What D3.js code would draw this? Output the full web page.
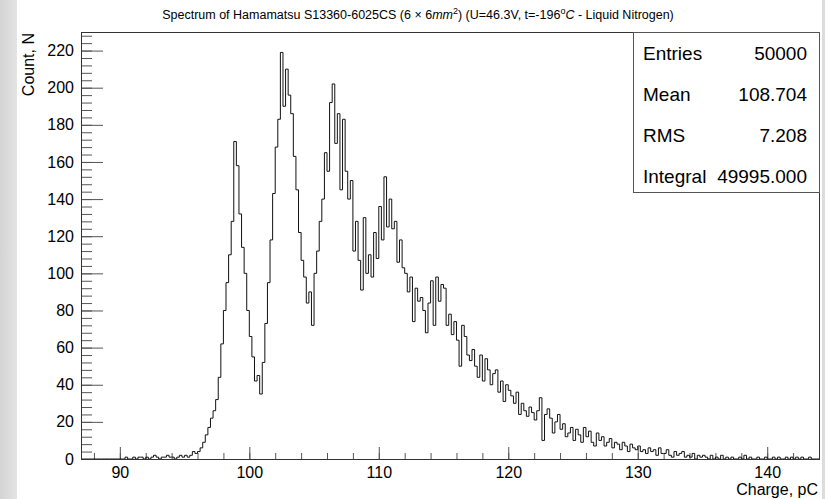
<!DOCTYPE html>
<html lang="en">
<head>
<meta charset="UTF-8">
<title>Spectrum of Hamamatsu S13360-6025CS</title>
<script src="https://cdnjs.cloudflare.com/ajax/libs/d3/7.8.5/d3.min.js"></script>
<style>
  body { margin: 0; background: #fff; }
  svg { display: block; font-family: "Liberation Sans", Arial, sans-serif; }
  .tick line { stroke: #555; }
  .tick text { fill: #000; font-size: 16px; }
</style>
</head>
<body>
<svg width="825" height="499"></svg>
<script>
// histogram: 285 bins of 0.2 pC starting at 87 pC
const binStart = 87;
const binWidth = 0.2;
const counts = [
  0,0,0,0,0,      0,0,0,0,0,      0,0,0,0,0,        // 87-89
  0,0,1,0,0,      1,0,1,1,0,      1,0,1,2,1,        // 90-92
  0,1,1,2,1,      1,0,1,2,1,      2,1,2,4,3,        // 93-95
  4,6,9,13,17,    22,26,32,44,62, 80,95,110,128,171, // 96-98
  158,132,114,100,80, 66,55,42,45,35, 52,73,95,118,143, // 99-101
  168,183,219,190,210, 196,186,163,145,122, 107,98,84,90,72, // 102-104
  100,112,128,140,165, 155,192,202,170,186, 145,183,155,140,150, // 105-107
  112,128,107,91,130, 100,110,98,122,108, 136,118,152,125,140, // 108-110
  124,128,106,118,103, 100,90,98,74,92, 85,87,80,68,84, // 111-113
  96,72,98,85,94, 92,72,78,67,74, 64,50,72,66,56,    // 114-116
  53,59,50,44,56, 42,54,48,40,46, 48,36,42,31,40,    // 117-119
  37,34,30,36,24, 30,26,23,28,25, 21,26,33,10,24,    // 120-122
  27,22,14,20,24, 16,19,12,14,17, 10,16,13,9,17,     // 123-125
  12,15,9,7,14,   10,12,7,9,11,   6,9,8,5,9,         // 126-128
  7,4,8,6,5,      7,4,5,3,6,      4,5,2,6,3,         // 129-131
  3,5,2,1,4,      2,3,4,1,2,      1,3,0,2,1,         // 132-134
  2,1,0,2,0,      1,0,2,0,1,      0,1,0,0,1,         // 135-137
  0,2,0,1,0,      0,1,0,0,1,      0,0,1,0,1,         // 138-140
  0,0,1,0,1,      0,1,0,1,0,      0,1,0,0,0          // 141-143
];

const xDomain = [87, 144];
const yDomain = [0, 230];
const xTicks = [90, 100, 110, 120, 130, 140];
const xMinorTicks = d3.range(88, 145, 2);
const yTicks = d3.range(0, 221, 20);
const yMinorTicks = d3.range(0, 229, 4);

const statNames = ["Entries", "Mean", "RMS", "Integral"];
const statValues = ["50000", "108.704", "7.208", "49995.000"];

const svg = d3.select("svg");
const frame = { left: 81, right: 819, top: 32, bottom: 459 };

// grey page edges around the white canvas
const grad = svg.append("defs").append("linearGradient").attr("id", "edge");
grad.append("stop").attr("offset", "0%").attr("stop-color", "#d4d4d4");
grad.append("stop").attr("offset", "100%").attr("stop-color", "#e4e4e4");
svg.append("rect").attr("x", 0).attr("y", 0).attr("width", 17).attr("height", 499).attr("fill", "url(#edge)");
svg.append("rect").attr("x", 822).attr("y", 0).attr("width", 3).attr("height", 499).attr("fill", "#dcdcdc");

const x = d3.scaleLinear().domain(xDomain).range([frame.left, frame.right]);
const y = d3.scaleLinear().domain(yDomain).range([frame.bottom, frame.top]);

// axes, ticks pointing into the frame
svg.append("g").attr("transform", `translate(0,${frame.bottom})`)
  .call(d3.axisBottom(x).tickValues(xMinorTicks).tickSize(-6).tickFormat(""))
  .call(g => g.select(".domain").remove());
svg.append("g").attr("transform", `translate(0,${frame.bottom})`)
  .call(d3.axisBottom(x).tickValues(xTicks).tickSize(-12).tickPadding(8).tickFormat(d3.format("d")))
  .call(g => g.select(".domain").remove());

svg.append("g").attr("transform", `translate(${frame.left},0)`)
  .call(d3.axisLeft(y).tickValues(yMinorTicks).tickSize(-11).tickFormat(""))
  .call(g => g.select(".domain").remove());
svg.append("g").attr("transform", `translate(${frame.left},0)`)
  .call(d3.axisLeft(y).tickValues(yTicks).tickSize(-22).tickPadding(7).tickFormat(d3.format("d")))
  .call(g => g.select(".domain").remove());

// histogram outline
const pts = counts.map((c, i) => [binStart + i * binWidth, c]);
pts.push([binStart + counts.length * binWidth, counts[counts.length - 1]]);
const line = d3.line().x(d => x(d[0])).y(d => y(d[1])).curve(d3.curveStepAfter);
svg.append("path").datum(pts)
  .attr("d", line)
  .attr("fill", "none")
  .attr("stroke", "#111")
  .attr("stroke-width", 1);

// frame
svg.append("rect")
  .attr("x", frame.left + 0.5).attr("y", frame.top + 0.5)
  .attr("width", frame.right - frame.left).attr("height", frame.bottom - frame.top)
  .attr("fill", "none").attr("stroke", "#333");

// stats box
const box = { left: 633, top: 32, right: 819, bottom: 192 };
svg.append("rect")
  .attr("x", box.left + 0.5).attr("y", box.top + 0.5)
  .attr("width", box.right - box.left).attr("height", box.bottom - box.top)
  .attr("fill", "#fff").attr("stroke", "#555");
statNames.forEach((n, i) => {
  const by = 60 + i * 41;
  svg.append("text").attr("x", 643).attr("y", by).attr("font-size", 19).text(n);
  svg.append("text").attr("x", 807).attr("y", by).attr("font-size", 19)
    .attr("text-anchor", "end").text(statValues[i]);
});

// title
const title = svg.append("text").attr("x", 418).attr("y", 19)
  .attr("text-anchor", "middle").attr("font-size", 12.5);
title.append("tspan").text("Spectrum of Hamamatsu S13360-6025CS (6 \u00d7 6");
title.append("tspan").attr("font-style", "italic").text("mm");
title.append("tspan").attr("font-size", 9).attr("dy", -5).text("2");
title.append("tspan").attr("dy", 5).text(") (U=46.3V, t=-196");
title.append("tspan").attr("font-size", 9).attr("dy", -5).text("o");
title.append("tspan").attr("dy", 5).attr("font-style", "italic").text("C");
title.append("tspan").text(" - Liquid Nitrogen)");

// axis titles
svg.append("text")
  .attr("transform", "translate(34,33) rotate(-90)")
  .attr("text-anchor", "end").attr("font-size", 16)
  .text("Count, N");
svg.append("text")
  .attr("x", 818).attr("y", 495)
  .attr("text-anchor", "end").attr("font-size", 16)
  .text("Charge, pC");
</script>
</body>
</html>
